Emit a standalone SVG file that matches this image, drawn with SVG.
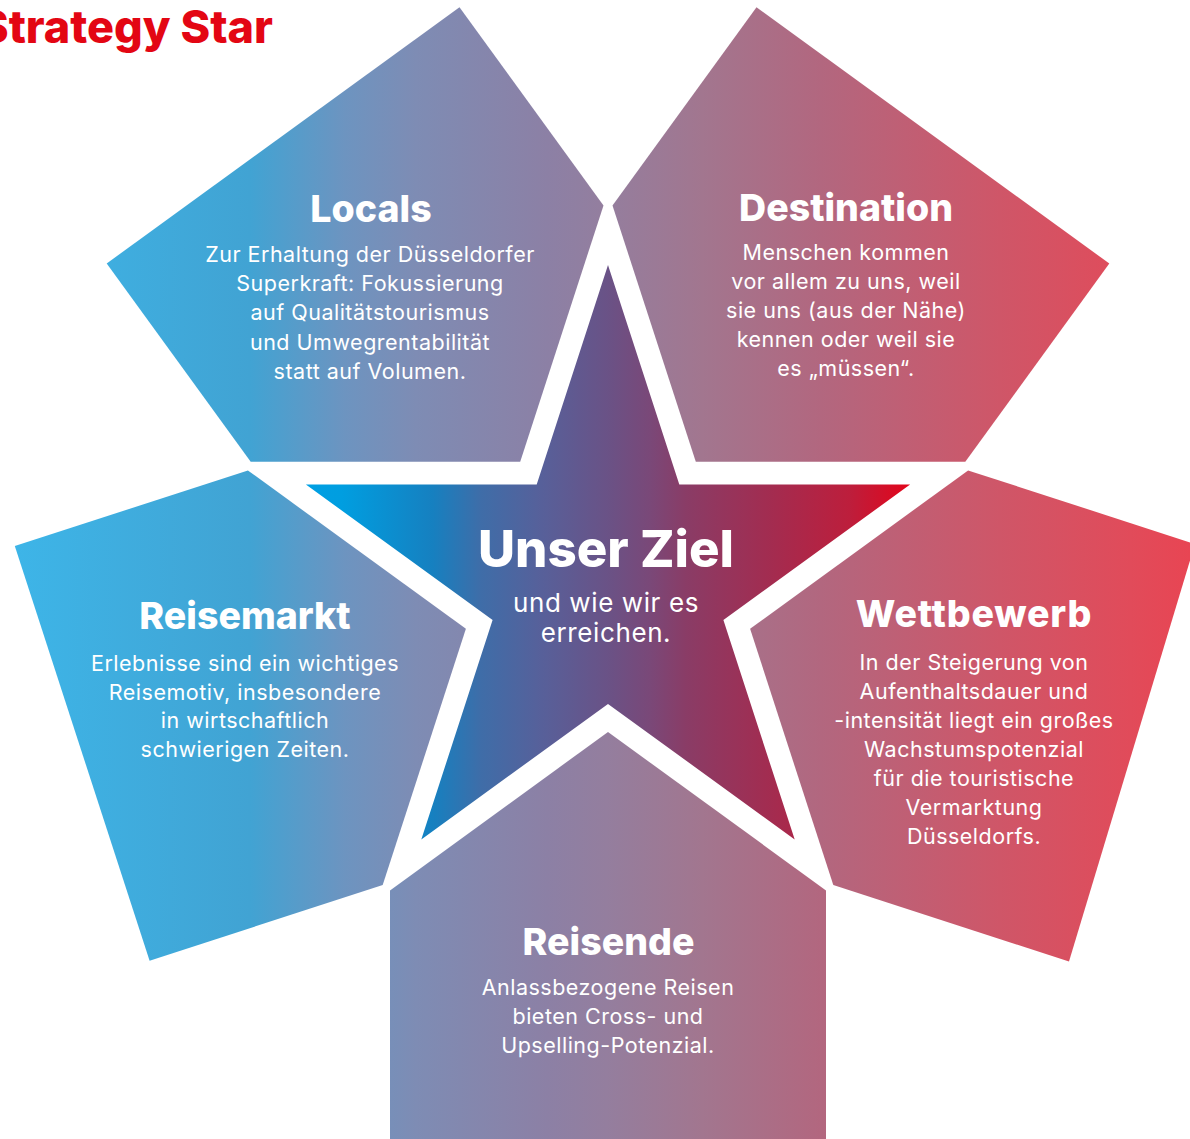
<svg xmlns="http://www.w3.org/2000/svg" width="1190" height="1139" viewBox="0 0 1190 1139">
  <defs>
    <!-- soft horizontal wash shared by the five outer fields -->
    <linearGradient id="fieldWash" gradientUnits="userSpaceOnUse" x1="0" y1="0" x2="1190" y2="0">
      <stop offset="0" stop-color="#3db6e9"/>
      <stop offset="0.21" stop-color="#41a3d3"/>
      <stop offset="0.29" stop-color="#6d94c0"/>
      <stop offset="0.35" stop-color="#7e8cb4"/>
      <stop offset="0.46" stop-color="#8c80a5"/>
      <stop offset="0.51" stop-color="#947e9e"/>
      <stop offset="0.59" stop-color="#a2768f"/>
      <stop offset="0.69" stop-color="#b2677f"/>
      <stop offset="0.84" stop-color="#cf5668"/>
      <stop offset="0.95" stop-color="#e14b5a"/>
      <stop offset="1" stop-color="#e84553"/>
    </linearGradient>
    <!-- saturated cyan-to-red ramp of the central star -->
    <linearGradient id="starRamp" gradientUnits="userSpaceOnUse" x1="306" y1="0" x2="910" y2="0">
      <stop offset="0" stop-color="#009fe3"/>
      <stop offset="0.06" stop-color="#009ee0"/>
      <stop offset="0.21" stop-color="#1680c0"/>
      <stop offset="0.29" stop-color="#3f6da8"/>
      <stop offset="0.39" stop-color="#57609a"/>
      <stop offset="0.5" stop-color="#6a5286"/>
      <stop offset="0.57" stop-color="#7a4878"/>
      <stop offset="0.63" stop-color="#8a3c66"/>
      <stop offset="0.77" stop-color="#a32c50"/>
      <stop offset="0.9" stop-color="#bd1e3c"/>
      <stop offset="1" stop-color="#e3051b"/>
    </linearGradient>
    <style>
      .field { fill: url(#fieldWash); }
      .star { fill: url(#starRamp); }
      .head { font-family: Inter, "Liberation Sans", sans-serif; font-weight: 800; font-size: 37.5px; fill: #ffffff; text-anchor: middle; }
      .body { font-family: Inter, "Liberation Sans", sans-serif; font-weight: 400; font-size: 21.5px; letter-spacing: 0.5px; fill: #ffffff; text-anchor: middle; }
      .hero { font-family: Inter, "Liberation Sans", sans-serif; font-weight: 800; font-size: 51px; fill: #ffffff; text-anchor: middle; }
      .sub { font-family: Inter, "Liberation Sans", sans-serif; font-weight: 400; font-size: 26px; letter-spacing: 0.6px; fill: #ffffff; text-anchor: middle; }
      .title { font-family: Inter, "Liberation Sans", sans-serif; font-weight: 800; font-size: 45px; fill: #e30613; }
    </style>
  </defs>

  <rect width="1190" height="1139" fill="#ffffff"/>

  <text class="title" x="273" y="43" text-anchor="end">Strategy Star</text>

  <g id="locals">
    <polygon class="field" points="459.5,7.3 603.5,205.5 520.2,461.7 250.7,461.7 106.7,263.5"/>
    <text class="head" x="371" y="222">Locals</text>
    <text class="body" x="370" y="262">Zur Erhaltung der Düsseldorfer</text>
    <text class="body" x="370" y="291">Superkraft: Fokussierung</text>
    <text class="body" x="370" y="320">auf Qualitätstourismus</text>
    <text class="body" x="370" y="349.5">und Umwegrentabilität</text>
    <text class="body" x="370" y="378.5">statt auf Volumen.</text>
  </g>

  <g id="destination">
    <polygon class="field" points="756.5,7.3 1109.3,263.5 965.3,461.7 695.8,461.7 612.5,205.5"/>
    <text class="head" x="846" y="221">Destination</text>
    <text class="body" x="846" y="260">Menschen kommen</text>
    <text class="body" x="846" y="289">vor allem zu uns, weil</text>
    <text class="body" x="846" y="318">sie uns (aus der Nähe)</text>
    <text class="body" x="846" y="347">kennen oder weil sie</text>
    <text class="body" x="846" y="376">es „müssen“.</text>
  </g>

  <g id="reisemarkt">
    <polygon class="field" points="14.8,546.1 247.9,470.4 465.9,628.8 382.7,885 149.6,960.7"/>
    <text class="head" x="245" y="629">Reisemarkt</text>
    <text class="body" x="245" y="670.5">Erlebnisse sind ein wichtiges</text>
    <text class="body" x="245" y="699.5">Reisemotiv, insbesondere</text>
    <text class="body" x="245" y="728">in wirtschaftlich</text>
    <text class="body" x="245" y="757">schwierigen Zeiten.</text>
  </g>

  <g id="wettbewerb">
    <polygon class="field" points="968.1,470.4 1195,544 1069,961.5 833.3,885 750.1,628.8"/>
    <text class="head" x="974" y="627" letter-spacing="0.8">Wettbewerb</text>
    <text class="body" x="974" y="670">In der Steigerung von</text>
    <text class="body" x="974" y="699">Aufenthaltsdauer und</text>
    <text class="body" x="974" y="728">-intensität liegt ein großes</text>
    <text class="body" x="974" y="757">Wachstumspotenzial</text>
    <text class="body" x="974" y="786">für die touristische</text>
    <text class="body" x="974" y="815">Vermarktung</text>
    <text class="body" x="974" y="844">Düsseldorfs.</text>
  </g>

  <g id="reisende">
    <polygon class="field" points="608,732 826,890.4 826,1140 390,1140 390,890.4"/>
    <text class="head" x="608.5" y="955">Reisende</text>
    <text class="body" x="608" y="995">Anlassbezogene Reisen</text>
    <text class="body" x="608" y="1024">bieten Cross- und</text>
    <text class="body" x="608" y="1053">Upselling-Potenzial.</text>
  </g>

  <g id="unser-ziel">
    <polygon class="star" points="608,265 679.3,484.5 910.1,484.5 723.4,620.1 794.7,839.5 608,703.9 421.3,839.5 492.6,620.1 305.9,484.5 536.7,484.5"/>
    <text class="hero" x="606" y="567">Unser Ziel</text>
    <text class="sub" x="606" y="612">und wie wir es</text>
    <text class="sub" x="606" y="642">erreichen.</text>
  </g>
</svg>
